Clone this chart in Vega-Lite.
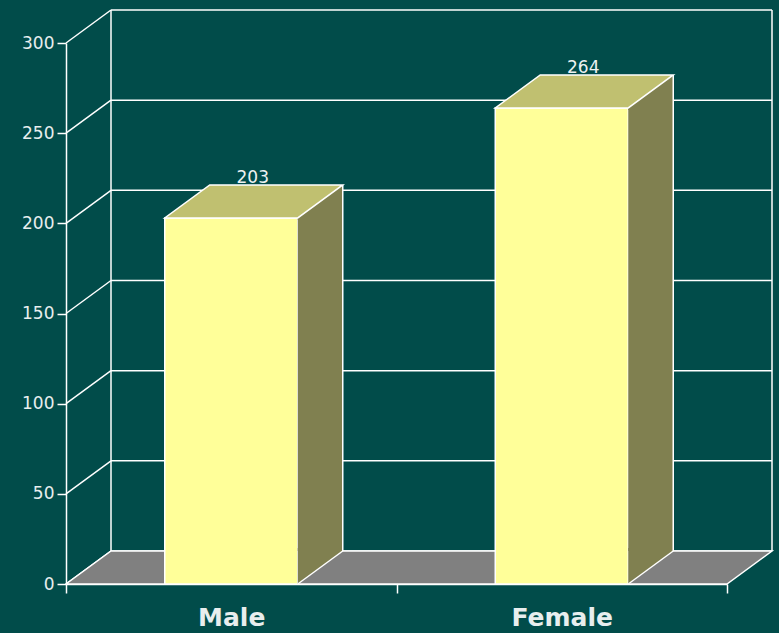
{
  "$schema": "https://vega.github.io/schema/vega-lite/v6.json",
  "width": 661,
  "height": 541,
  "autosize": {"type": "none"},
  "padding": {"left": 66, "top": 43, "right": 52, "bottom": 49},
  "background": "#014c4a",
  "config": {
    "view": {"stroke": null},
    "axis": {
      "domainColor": "white",
      "domainWidth": 1.5,
      "tickColor": "white",
      "tickWidth": 1.5,
      "labelColor": "#e8eeee",
      "labelFont": "DejaVu Sans",
      "grid": false
    }
  },
  "data": {"values": [
    {"sex": "Male", "count": 203},
    {"sex": "Female", "count": 264}
  ]},
  "datasets": {
    "ticks": [{"v": 0}, {"v": 50}, {"v": 100}, {"v": 150}, {"v": 200}, {"v": 250}, {"v": 300}]
  },
  "layer": [
    {
      "data": {"name": "ticks"},
      "mark": {"type": "rule", "stroke": "white", "strokeWidth": 1.5, "xOffset": 45, "x2Offset": 45, "yOffset": -33},
      "encoding": {
        "x": {"datum": "Male", "type": "nominal", "bandPosition": 0},
        "x2": {"datum": "Female", "bandPosition": 1},
        "y": {"field": "v", "type": "quantitative"}
      }
    },
    {
      "data": {"values": [{}]},
      "mark": {"type": "rule", "stroke": "white", "strokeWidth": 1.5, "xOffset": 45, "yOffset": -33, "y2Offset": -33},
      "encoding": {
        "x": {"datum": "Male", "type": "nominal", "bandPosition": 0},
        "y": {"datum": 0, "type": "quantitative"},
        "y2": {"datum": 300}
      }
    },
    {
      "data": {"values": [{}]},
      "mark": {"type": "rule", "stroke": "white", "strokeWidth": 1.5, "xOffset": 45, "yOffset": -33, "y2Offset": -33},
      "encoding": {
        "x": {"datum": "Female", "type": "nominal", "bandPosition": 1},
        "y": {"datum": 0, "type": "quantitative"},
        "y2": {"datum": 300}
      }
    },
    {
      "data": {"name": "ticks"},
      "mark": {"type": "rule", "stroke": "white", "strokeWidth": 1.5, "x2Offset": 45, "y2Offset": -33},
      "encoding": {
        "x": {"datum": "Male", "type": "nominal", "bandPosition": 0},
        "x2": {"datum": "Male", "bandPosition": 0},
        "y": {"field": "v", "type": "quantitative"},
        "y2": {"field": "v"}
      }
    },
    {
      "data": {"values": [{}]},
      "mark": {"type": "point", "filled": true, "opacity": 1, "size": 4, "fill": "#808080", "stroke": "white", "strokeWidth": 1.5,
        "shape": "M-165.25,0L495.75,0L540.75,-33L-120.25,-33Z"},
      "encoding": {
        "x": {"datum": "Male", "type": "nominal"},
        "y": {"datum": 0, "type": "quantitative"}
      }
    },
    {
      "mark": {"type": "bar", "size": 133, "fill": "#ffff99", "stroke": "white", "strokeWidth": 1.5},
      "encoding": {
        "x": {
          "field": "sex", "type": "nominal", "sort": ["Male", "Female"],
          "scale": {"domain": ["Male", "Female"], "paddingInner": 0, "paddingOuter": 0},
          "axis": {"title": null, "labelAngle": 0, "labelAlign": "center", "labelFontSize": 25, "labelFontWeight": "bold", "tickSize": 9, "tickBand": "extent", "labelBaseline": "alphabetic", "labelPadding": 32}
        },
        "y": {
          "field": "count", "type": "quantitative",
          "scale": {"domain": [0, 300], "nice": false},
          "axis": {"title": null, "values": [0, 50, 100, 150, 200, 250, 300], "tickSize": 9, "labelPadding": 3, "labelFontSize": 17}
        }
      }
    },
    {
      "mark": {"type": "bar", "size": 45, "xOffset": 89, "y2Offset": -33, "fill": "#808050", "strokeWidth": 0},
      "encoding": {
        "x": {"field": "sex", "type": "nominal"},
        "y": {"field": "count", "type": "quantitative"},
        "y2": {"datum": 0}
      }
    },
    {
      "mark": {"type": "point", "filled": true, "opacity": 1, "size": 4, "fill": "#808050", "strokeWidth": 0,
        "shape": "M66.5,0L111.5,-33L111.5,2L66.5,2Z"},
      "encoding": {
        "x": {"field": "sex", "type": "nominal"},
        "y": {"field": "count", "type": "quantitative"}
      }
    },
    {
      "mark": {"type": "point", "filled": true, "opacity": 1, "size": 4, "fill": "#808050", "strokeWidth": 0,
        "shape": "M66.5,-36L111.5,-36L111.5,-33L66.5,0Z"},
      "encoding": {
        "x": {"field": "sex", "type": "nominal"},
        "y": {"datum": 0, "type": "quantitative"}
      }
    },
    {
      "mark": {"type": "rule", "stroke": "white", "strokeWidth": 1.5, "xOffset": 111.5, "yOffset": -33, "y2Offset": -33},
      "encoding": {
        "x": {"field": "sex", "type": "nominal"},
        "y": {"field": "count", "type": "quantitative"},
        "y2": {"datum": 0}
      }
    },
    {
      "mark": {"type": "rule", "stroke": "white", "strokeWidth": 1.5, "xOffset": 66.5, "x2Offset": 111.5, "y2Offset": -33},
      "encoding": {
        "x": {"field": "sex", "type": "nominal"},
        "x2": {"field": "sex"},
        "y": {"datum": 0, "type": "quantitative"},
        "y2": {"datum": 0}
      }
    },
    {
      "mark": {"type": "point", "filled": true, "opacity": 1, "size": 4, "fill": "#c0c070", "stroke": "white", "strokeWidth": 1.5,
        "shape": "M-66.5,0L66.5,0L111.5,-33L-21.5,-33Z"},
      "encoding": {
        "x": {"field": "sex", "type": "nominal"},
        "y": {"field": "count", "type": "quantitative"}
      }
    },
    {
      "mark": {"type": "text", "dx": 21.5, "dy": -34.5, "baseline": "alphabetic", "align": "center", "font": "DejaVu Sans", "fontSize": 17, "fill": "#eef2f2"},
      "encoding": {
        "x": {"field": "sex", "type": "nominal"},
        "y": {"field": "count", "type": "quantitative"},
        "text": {"field": "count", "type": "quantitative"}
      }
    }
  ]
}
